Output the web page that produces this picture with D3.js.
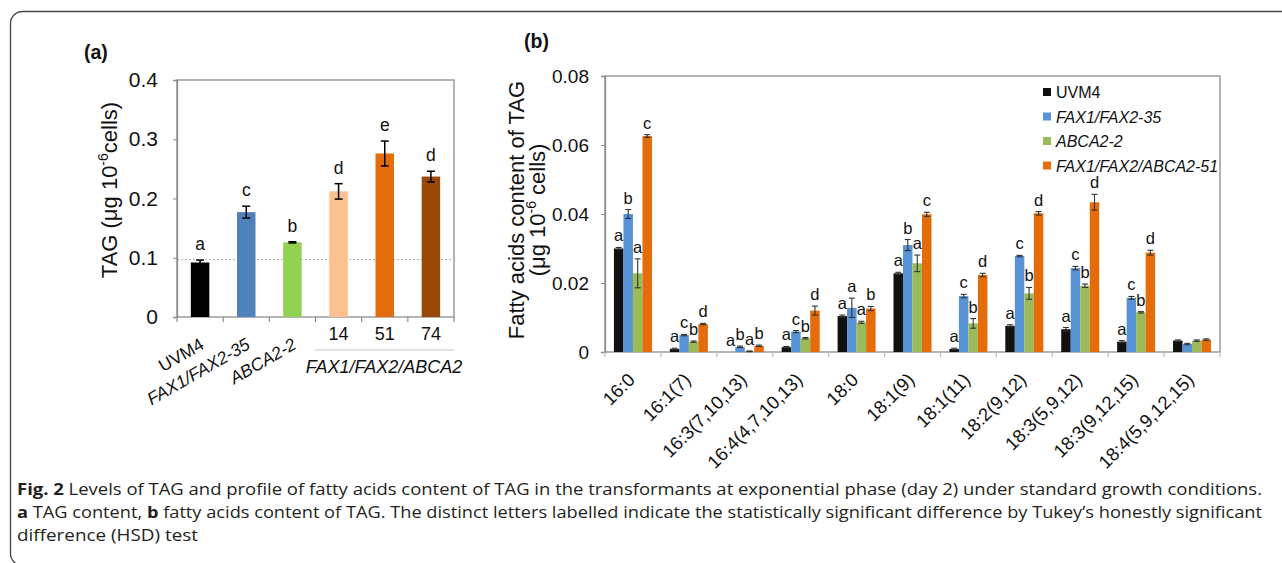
<!DOCTYPE html>
<html><head><meta charset="utf-8">
<script src="https://cdn.jsdelivr.net/npm/d3@7"></script>
<style>
html,body{margin:0;padding:0;background:#fff;}
svg{display:block;}
</style></head>
<body>
<svg id="chart" width="1282" height="563"></svg>
<script>
// ---------- Panel (a) data ----------
const aCategories = ["UVM4", "FAX1/FAX2-35", "ABCA2-2", "14", "51", "74"];
const aValues = [0.092, 0.177, 0.126, 0.212, 0.276, 0.237];
const aErrors = [0.004, 0.010, 0.001, 0.013, 0.021, 0.009];
const aLetters = ["a", "c", "b", "d", "e", "d"];
const aColors = ["#000000", "#4F81BD", "#92D050", "#FAC090", "#E46C0A", "#984807"];
const aTicks = [0, 0.1, 0.2, 0.3, 0.4];
const aRefLine = 0.097;
const aGroupLabel = "FAX1/FAX2/ABCA2";

// ---------- Panel (b) data ----------
const bCategories = ["16:0", "16:1(7)", "16:3(7,10,13)", "16:4(4,7,10,13)", "18:0", "18:1(9)",
  "18:1(11)", "18:2(9,12)", "18:3(5,9,12)", "18:3(9,12,15)", "18:4(5,9,12,15)"];
const bSeries = ["UVM4", "FAX1/FAX2-35", "ABCA2-2", "FAX1/FAX2/ABCA2-51"];
const bColors = ["#111111", "#5893D6", "#9BBB59", "#E46C0A"];
const bUVM4 = [0.0300, 0.0009, 0.0000, 0.0014, 0.0104, 0.0228, 0.0009, 0.0076, 0.0066, 0.0030, 0.0033];
const bFAX = [0.0400, 0.0049, 0.0015, 0.0059, 0.0128, 0.0310, 0.0162, 0.0278, 0.0243, 0.0157, 0.0023];
const bABCA = [0.0228, 0.0030, 0.0002, 0.0040, 0.0086, 0.0257, 0.0083, 0.0170, 0.0192, 0.0115, 0.0033];
const bTriple = [0.0626, 0.0081, 0.0018, 0.0120, 0.0126, 0.0399, 0.0223, 0.0402, 0.0434, 0.0288, 0.0036];
const bUVM4Err = [0.0003, 0.0002, 0.0000, 0.0002, 0.0003, 0.0003, 0.0002, 0.0003, 0.0005, 0.0003, 0.0002];
const bFAXErr = [0.0013, 0.0002, 0.0002, 0.0003, 0.0028, 0.0016, 0.0005, 0.0002, 0.0005, 0.0004, 0.0002];
const bABCAErr = [0.0042, 0.0002, 0.0001, 0.0002, 0.0003, 0.0024, 0.0014, 0.0017, 0.0005, 0.0002, 0.0002];
const bTripleErr = [0.0004, 0.0002, 0.0002, 0.0013, 0.0006, 0.0006, 0.0005, 0.0005, 0.0023, 0.0007, 0.0002];
const bUVM4Let = ["a", "a", "a", "a", "a", "a", "a", "a", "a", "a", ""];
const bFAXLet = ["b", "c", "b", "c", "a", "b", "c", "c", "c", "c", ""];
const bABCALet = ["a", "b", "a", "b", "a", "a", "b", "b", "b", "b", ""];
const bTripleLet = ["c", "d", "b", "d", "b", "c", "d", "d", "d", "d", ""];
const bTicks = [0, 0.02, 0.04, 0.06, 0.08];

const captionLines = [
  [["Fig. 2", true], [" Levels of TAG and profile of fatty acids content of TAG in the transformants at exponential phase (day 2) under standard growth conditions.", false]],
  [["a", true], [" TAG content, ", false], ["b", true], [" fatty acids content of TAG. The distinct letters labelled indicate the statistically significant difference by Tukey’s honestly significant", false]],
  [["difference (HSD) test", false]]
];

const FONT = "'Liberation Sans', Arial, sans-serif";
const svg = d3.select("#chart");

// frame
svg.append("rect").attr("x", 10.5).attr("y", 11.5).attr("width", 1320).attr("height", 554)
  .attr("rx", 12).attr("fill", "none").attr("stroke", "#444").attr("stroke-width", 1.3);

// ================= Panel (a) =================
const aL = 177, aR = 454, aT = 80, aB = 317;
const ax = d3.scaleBand().domain(aCategories).range([aL, aR]).paddingInner(0.6).paddingOuter(0.3);
const ay = d3.scaleLinear().domain([0, 0.4]).range([aB, aT]);
const ga = svg.append("g");

ga.append("rect").attr("x", aL).attr("y", aT).attr("width", aR - aL).attr("height", aB - aT)
  .attr("fill", "none").attr("stroke", "#8c8c8c").attr("stroke-width", 1.3);

ga.append("line").attr("x1", aL).attr("x2", aR).attr("y1", ay(aRefLine)).attr("y2", ay(aRefLine))
  .attr("stroke", "#9a9a9a").attr("stroke-width", 0.8).attr("stroke-dasharray", "2,2");

const aYAxis = ga.append("g").attr("transform", `translate(${aL},0)`)
  .call(d3.axisLeft(ay).tickValues(aTicks).tickSize(4).tickPadding(15)
    .tickFormat(d => d === 0 ? "0" : d3.format(".1f")(d)));
aYAxis.select(".domain").attr("stroke", "#8c8c8c").attr("stroke-width", 1.3);
aYAxis.selectAll(".tick line").attr("stroke", "#8c8c8c");
aYAxis.selectAll("text").attr("font-family", FONT).attr("font-size", 21).attr("fill", "#111");

// x boundary ticks
const aStep = ax.step();
ga.selectAll(".aTick").data(d3.range(aCategories.length + 1)).join("line")
  .attr("x1", i => aL + i * aStep).attr("x2", i => aL + i * aStep)
  .attr("y1", aB).attr("y2", aB + 5).attr("stroke", "#8c8c8c").attr("stroke-width", 1.2);

ga.selectAll(".aBar").data(aCategories).join("rect")
  .attr("x", d => ax(d)).attr("width", ax.bandwidth())
  .attr("y", (d, i) => ay(aValues[i])).attr("height", (d, i) => aB - ay(aValues[i]))
  .attr("fill", (d, i) => aColors[i]);

// error bars
aCategories.forEach((c, i) => {
  const cx = ax(c) + ax.bandwidth() / 2;
  const y1 = ay(aValues[i] + aErrors[i]), y2 = ay(aValues[i] - aErrors[i]);
  const g = ga.append("g").attr("stroke", "#000").attr("stroke-width", 1.5);
  g.append("line").attr("x1", cx).attr("x2", cx).attr("y1", y1).attr("y2", y2);
  g.append("line").attr("x1", cx - 4).attr("x2", cx + 4).attr("y1", y1).attr("y2", y1);
  g.append("line").attr("x1", cx - 4).attr("x2", cx + 4).attr("y1", y2).attr("y2", y2);
  ga.append("text").attr("x", cx).attr("y", y1 - 10).attr("text-anchor", "middle")
    .attr("font-family", FONT).attr("font-size", 17.5).attr("fill", "#111").text(aLetters[i]);
});

// x labels
aCategories.forEach((c, i) => {
  const cx = ax(c) + ax.bandwidth() / 2;
  if (i < 3) {
    ga.append("text").attr("transform", `translate(${cx + 5},348) rotate(-30)`)
      .attr("text-anchor", "end").attr("font-family", FONT).attr("font-size", 17.5)
      .attr("font-style", i === 0 ? "normal" : "italic").attr("fill", "#111").text(c);
  } else {
    ga.append("text").attr("x", cx).attr("y", 340).attr("text-anchor", "middle")
      .attr("font-family", FONT).attr("font-size", 18).attr("fill", "#111").text(c);
  }
});
ga.append("line").attr("x1", 315).attr("x2", aR).attr("y1", 350).attr("y2", 350)
  .attr("stroke", "#c4c4c4").attr("stroke-width", 1);
ga.append("text").attr("x", 384).attr("y", 373).attr("text-anchor", "middle")
  .attr("font-family", FONT).attr("font-size", 18).attr("font-style", "italic").attr("fill", "#111")
  .text(aGroupLabel);

// y title
const aTitle = ga.append("text").attr("transform", "translate(117,190) rotate(-90)")
  .attr("text-anchor", "middle").attr("font-family", FONT).attr("font-size", 22).attr("fill", "#111");
aTitle.append("tspan").text("TAG (μg 10");
aTitle.append("tspan").attr("font-size", 14).attr("dy", -9).text("-6");
aTitle.append("tspan").attr("dy", 9).text("cells)");

ga.append("text").attr("x", 84).attr("y", 59).attr("font-family", FONT).attr("font-size", 19.5)
  .attr("font-weight", "bold").attr("fill", "#111").text("(a)");

// ================= Panel (b) =================
const bL = 605, bR = 1220, bT = 76, bB = 352;
const bx0 = d3.scaleBand().domain(bCategories).range([bL, bR]).paddingInner(0.32).paddingOuter(0.16);
const bx1 = d3.scaleBand().domain(bSeries).range([0, bx0.bandwidth()]);
const by = d3.scaleLinear().domain([0, 0.08]).range([bB, bT]);
const gb = svg.append("g");

gb.append("rect").attr("x", bL).attr("y", bT).attr("width", bR - bL).attr("height", bB - bT)
  .attr("fill", "none").attr("stroke", "#8c8c8c").attr("stroke-width", 1.3);

const bYAxis = gb.append("g").attr("transform", `translate(${bL},0)`)
  .call(d3.axisLeft(by).tickValues(bTicks).tickSize(4).tickPadding(12)
    .tickFormat(d => d === 0 ? "0" : d3.format(".2f")(d)));
bYAxis.select(".domain").attr("stroke", "#8c8c8c").attr("stroke-width", 1.3);
bYAxis.selectAll(".tick line").attr("stroke", "#8c8c8c");
bYAxis.selectAll("text").attr("font-family", FONT).attr("font-size", 19).attr("fill", "#111");

const bStep = bx0.step();
gb.selectAll(".bTick").data(d3.range(bCategories.length + 1)).join("line")
  .attr("x1", i => bL + i * bStep).attr("x2", i => bL + i * bStep)
  .attr("y1", bB).attr("y2", bB + 5).attr("stroke", "#bdbdbd").attr("stroke-width", 1.2);

const bVals = [bUVM4, bFAX, bABCA, bTriple];
const bErrs = [bUVM4Err, bFAXErr, bABCAErr, bTripleErr];
const bLets = [bUVM4Let, bFAXLet, bABCALet, bTripleLet];

bSeries.forEach((s, si) => {
  bCategories.forEach((c, ci) => {
    const v = bVals[si][ci], e = bErrs[si][ci];
    const x = bx0(c) + bx1(s), w = bx1.bandwidth();
    gb.append("rect").attr("x", x).attr("width", w).attr("y", by(v)).attr("height", bB - by(v))
      .attr("fill", bColors[si]);
    const cx = x + w / 2;
    if (v > 0) {
      const y1 = by(v + e), y2 = by(Math.max(0, v - e));
      const g = gb.append("g").attr("stroke", "#333").attr("stroke-width", 1.1);
      g.append("line").attr("x1", cx).attr("x2", cx).attr("y1", y1).attr("y2", y2);
      g.append("line").attr("x1", cx - 3).attr("x2", cx + 3).attr("y1", y1).attr("y2", y1);
      g.append("line").attr("x1", cx - 3).attr("x2", cx + 3).attr("y1", y2).attr("y2", y2);
    }
    if (bLets[si][ci]) {
      gb.append("text").attr("x", cx).attr("y", by(v + e) - 6).attr("text-anchor", "middle")
        .attr("font-family", FONT).attr("font-size", 16.5).attr("fill", "#111").text(bLets[si][ci]);
    }
  });
});

bCategories.forEach(c => {
  const cx = bx0(c) + bx0.bandwidth() / 2;
  gb.append("text").attr("transform", `translate(${cx + 3},381) rotate(-45)`)
    .attr("text-anchor", "end").attr("font-family", FONT).attr("font-size", 18.5)
    .attr("fill", "#111").text(c);
});

// y title
const bTitle = gb.append("text").attr("transform", "translate(524,210) rotate(-90)")
  .attr("text-anchor", "middle").attr("font-family", FONT).attr("font-size", 22).attr("fill", "#111");
bTitle.text("Fatty acids content of TAG");
const bTitle2 = gb.append("text").attr("transform", "translate(545,210) rotate(-90)")
  .attr("text-anchor", "middle").attr("font-family", FONT).attr("font-size", 22).attr("fill", "#111");
bTitle2.append("tspan").text("(μg 10");
bTitle2.append("tspan").attr("font-size", 14).attr("dy", -9).text("-6");
bTitle2.append("tspan").attr("dy", 9).text(" cells)");

gb.append("text").attr("x", 524).attr("y", 48).attr("font-family", FONT).attr("font-size", 19.5)
  .attr("font-weight", "bold").attr("fill", "#111").text("(b)");

// legend
const leg = gb.append("g");
bSeries.forEach((s, i) => {
  const yb = 98 + i * 24.5;
  leg.append("rect").attr("x", 1043).attr("y", yb - 10).attr("width", 8).attr("height", 8).attr("fill", bColors[i]);
  leg.append("text").attr("x", 1056).attr("y", yb).attr("font-family", FONT).attr("font-size", 16)
    .attr("font-style", i === 0 ? "normal" : "italic").attr("fill", "#111").text(s);
});

// caption
const capLens = [1245, 1245, 181];
const capY = [495, 518, 541];
captionLines.forEach((parts, li) => {
  const t = svg.append("text").attr("x", 17).attr("y", capY[li])
    .attr("font-family", "'Open Sans', 'Noto Sans', sans-serif").attr("font-size", 16)
    .attr("fill", "#231f20").attr("textLength", capLens[li]).attr("lengthAdjust", "spacingAndGlyphs")
    .attr("xml:space", "preserve");
  parts.forEach(p => {
    t.append("tspan").attr("font-weight", p[1] ? "bold" : "normal").text(p[0]);
  });
});
</script>
</body></html>
